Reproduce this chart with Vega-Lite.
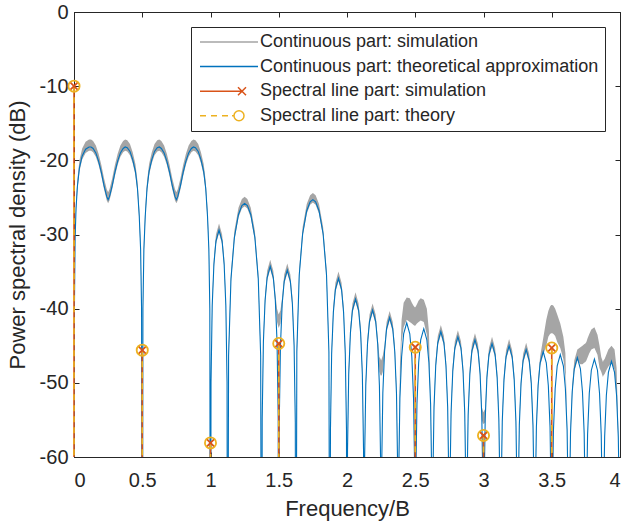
{
  "$schema": "https://vega.github.io/schema/vega-lite/v6.json",
  "width": 546,
  "height": 445,
  "autosize": "none",
  "padding": {"left": 74, "top": 12, "right": 6, "bottom": 66},
  "background": "white",
  "config": {
    "font": "Liberation Sans",
    "view": {"stroke": "#262626", "strokeWidth": 1},
    "axis": {"grid": false, "domainColor": "#262626", "tickColor": "#262626", "labelColor": "#262626", "titleColor": "#262626", "labelFont": "Liberation Sans", "titleFont": "Liberation Sans", "titleFontWeight": "normal", "labelFontSize": 20, "titleFontSize": 22}
  },
  "datasets": {
    "th": [
      {"x":0,"t":-100,"h":-100,"l":-100},
      {"x":0.003,"t":-40,"h":-39,"l":-40.5},
      {"x":0.008,"t":-30.5,"h":-29.5,"l":-31},
      {"x":0.015,"t":-26.5,"h":-25.5,"l":-27},
      {"x":0.025,"t":-23.5,"h":-22.5,"l":-24},
      {"x":0.04,"t":-21,"h":-20,"l":-21.5},
      {"x":0.06,"t":-19.4,"h":-18.4,"l":-19.9},
      {"x":0.085,"t":-18.5,"h":-17.5,"l":-19},
      {"x":0.11,"t":-18.2,"h":-17.2,"l":-18.7},
      {"x":0.125,"t":-18.2,"h":-17.2,"l":-18.7},
      {"x":0.14,"t":-18.4,"h":-17.4,"l":-18.9},
      {"x":0.16,"t":-19,"h":-18,"l":-19.5},
      {"x":0.18,"t":-20.1,"h":-19.1,"l":-20.6},
      {"x":0.2,"t":-21.6,"h":-20.6,"l":-22.1},
      {"x":0.22,"t":-23.4,"h":-22.4,"l":-23.9},
      {"x":0.24,"t":-24.9,"h":-23.9,"l":-25.4},
      {"x":0.25,"t":-25.3,"h":-24.3,"l":-25.8},
      {"x":0.26,"t":-24.9,"h":-23.9,"l":-25.4},
      {"x":0.28,"t":-23.4,"h":-22.4,"l":-23.9},
      {"x":0.3,"t":-21.6,"h":-20.6,"l":-22.1},
      {"x":0.32,"t":-20.1,"h":-19.1,"l":-20.6},
      {"x":0.34,"t":-19,"h":-18,"l":-19.5},
      {"x":0.36,"t":-18.4,"h":-17.4,"l":-18.9},
      {"x":0.375,"t":-18.2,"h":-17.2,"l":-18.7},
      {"x":0.39,"t":-18.3,"h":-17.3,"l":-18.8},
      {"x":0.41,"t":-18.8,"h":-17.8,"l":-19.3},
      {"x":0.43,"t":-19.9,"h":-18.9,"l":-20.4},
      {"x":0.45,"t":-21.5,"h":-20.5,"l":-22},
      {"x":0.465,"t":-23.8,"h":-22.8,"l":-24.3},
      {"x":0.478,"t":-27.5,"h":-26.5,"l":-28},
      {"x":0.488,"t":-32,"h":-31,"l":-32.5},
      {"x":0.495,"t":-40,"h":-39,"l":-40.5},
      {"x":0.5,"t":-100,"h":-100,"l":-100},
      {"x":0.505,"t":-40,"h":-39,"l":-40.5},
      {"x":0.512,"t":-32,"h":-31,"l":-32.5},
      {"x":0.522,"t":-27.5,"h":-26.5,"l":-28},
      {"x":0.535,"t":-23.8,"h":-22.8,"l":-24.3},
      {"x":0.55,"t":-21.5,"h":-20.5,"l":-22},
      {"x":0.57,"t":-19.9,"h":-18.9,"l":-20.4},
      {"x":0.59,"t":-18.8,"h":-17.8,"l":-19.3},
      {"x":0.61,"t":-18.3,"h":-17.3,"l":-18.8},
      {"x":0.625,"t":-18.2,"h":-17.2,"l":-18.7},
      {"x":0.64,"t":-18.4,"h":-17.4,"l":-18.9},
      {"x":0.66,"t":-19,"h":-18,"l":-19.5},
      {"x":0.68,"t":-20.1,"h":-19.1,"l":-20.6},
      {"x":0.7,"t":-21.6,"h":-20.6,"l":-22.1},
      {"x":0.72,"t":-23.4,"h":-22.4,"l":-23.9},
      {"x":0.74,"t":-24.9,"h":-23.9,"l":-25.4},
      {"x":0.75,"t":-25.3,"h":-24.3,"l":-25.8},
      {"x":0.76,"t":-24.9,"h":-23.9,"l":-25.4},
      {"x":0.78,"t":-23.4,"h":-22.4,"l":-23.9},
      {"x":0.8,"t":-21.6,"h":-20.6,"l":-22.1},
      {"x":0.82,"t":-20.1,"h":-19.1,"l":-20.6},
      {"x":0.84,"t":-19,"h":-18,"l":-19.5},
      {"x":0.86,"t":-18.4,"h":-17.4,"l":-18.9},
      {"x":0.875,"t":-18.2,"h":-17.2,"l":-18.7},
      {"x":0.89,"t":-18.3,"h":-17.3,"l":-18.8},
      {"x":0.91,"t":-18.8,"h":-17.8,"l":-19.3},
      {"x":0.93,"t":-19.9,"h":-18.9,"l":-20.4},
      {"x":0.95,"t":-21.5,"h":-20.5,"l":-22},
      {"x":0.965,"t":-23.8,"h":-22.8,"l":-24.3},
      {"x":0.978,"t":-27.5,"h":-26.5,"l":-28},
      {"x":0.988,"t":-32,"h":-31,"l":-32.5},
      {"x":0.995,"t":-40,"h":-39,"l":-40.5},
      {"x":1.0,"t":-100,"h":-100,"l":-100},
      {"x":1.00375,"t":-49.9,"h":-49,"l":-50.3},
      {"x":1.0125,"t":-39.6,"h":-38.7,"l":-40},
      {"x":1.025,"t":-34,"h":-33.1,"l":-34.4},
      {"x":1.04,"t":-30.9,"h":-30,"l":-31.3},
      {"x":1.0625,"t":-29.4,"h":-28.5,"l":-29.8},
      {"x":1.085,"t":-30.9,"h":-30,"l":-31.3},
      {"x":1.1,"t":-34,"h":-33.1,"l":-34.4},
      {"x":1.1125,"t":-39.6,"h":-38.7,"l":-40},
      {"x":1.12125,"t":-49.9,"h":-49,"l":-50.3},
      {"x":1.125,"t":-100,"h":-100,"l":-100},
      {"x":1.1325,"t":-46.3,"h":-45.4,"l":-46.7},
      {"x":1.15,"t":-36,"h":-35.1,"l":-36.4},
      {"x":1.175,"t":-30.4,"h":-29.5,"l":-30.8},
      {"x":1.205,"t":-27.3,"h":-26.4,"l":-27.7},
      {"x":1.23,"t":-26.1,"h":-25.2,"l":-26.5},
      {"x":1.25,"t":-25.8,"h":-24.9,"l":-26.2},
      {"x":1.27,"t":-26.1,"h":-25.2,"l":-26.5},
      {"x":1.295,"t":-27.3,"h":-26.4,"l":-27.7},
      {"x":1.325,"t":-30.4,"h":-29.5,"l":-30.8},
      {"x":1.35,"t":-36,"h":-35.1,"l":-36.4},
      {"x":1.3675,"t":-46.3,"h":-45.4,"l":-46.7},
      {"x":1.375,"t":-100,"h":-100,"l":-100},
      {"x":1.37875,"t":-54.8,"h":-53.9,"l":-55.2},
      {"x":1.3875,"t":-44.5,"h":-43.6,"l":-44.9},
      {"x":1.4,"t":-38.9,"h":-38,"l":-39.3},
      {"x":1.415,"t":-35.8,"h":-34.9,"l":-36.2},
      {"x":1.4375,"t":-34.3,"h":-33.4,"l":-34.7},
      {"x":1.46,"t":-35.8,"h":-34.9,"l":-36.2},
      {"x":1.475,"t":-38.9,"h":-38,"l":-39.3},
      {"x":1.4875,"t":-44.5,"h":-40,"l":-41.8},
      {"x":1.49625,"t":-54.8,"h":-40.6,"l":-42.4},
      {"x":1.5,"t":-100,"h":-40.8,"l":-42.6},
      {"x":1.50375,"t":-55.3,"h":-40.6,"l":-42.4},
      {"x":1.5125,"t":-45,"h":-40.2,"l":-42},
      {"x":1.525,"t":-39.4,"h":-38.5,"l":-39.8},
      {"x":1.54,"t":-36.3,"h":-35.4,"l":-36.7},
      {"x":1.5625,"t":-34.8,"h":-33.9,"l":-35.2},
      {"x":1.585,"t":-36.3,"h":-35.4,"l":-36.7},
      {"x":1.6,"t":-39.4,"h":-38.5,"l":-39.8},
      {"x":1.6125,"t":-45,"h":-44.1,"l":-45.4},
      {"x":1.62125,"t":-55.3,"h":-54.4,"l":-55.7},
      {"x":1.625,"t":-100,"h":-100,"l":-100},
      {"x":1.6325,"t":-45.8,"h":-44.9,"l":-46.2},
      {"x":1.65,"t":-35.5,"h":-34.6,"l":-35.9},
      {"x":1.675,"t":-29.9,"h":-29,"l":-30.3},
      {"x":1.705,"t":-26.8,"h":-25.9,"l":-27.2},
      {"x":1.73,"t":-25.6,"h":-24.7,"l":-26},
      {"x":1.75,"t":-25.3,"h":-24.4,"l":-25.7},
      {"x":1.77,"t":-25.6,"h":-24.7,"l":-26},
      {"x":1.795,"t":-26.8,"h":-25.9,"l":-27.2},
      {"x":1.825,"t":-29.9,"h":-29,"l":-30.3},
      {"x":1.85,"t":-35.5,"h":-34.6,"l":-35.9},
      {"x":1.8675,"t":-45.8,"h":-44.9,"l":-46.2},
      {"x":1.875,"t":-100,"h":-100,"l":-100},
      {"x":1.87875,"t":-56.4,"h":-55.5,"l":-56.8},
      {"x":1.8875,"t":-46.1,"h":-45.2,"l":-46.5},
      {"x":1.9,"t":-40.5,"h":-39.6,"l":-40.9},
      {"x":1.915,"t":-37.4,"h":-36.5,"l":-37.8},
      {"x":1.9375,"t":-35.9,"h":-35,"l":-36.3},
      {"x":1.96,"t":-37.4,"h":-36.5,"l":-37.8},
      {"x":1.975,"t":-40.5,"h":-39.6,"l":-40.9},
      {"x":1.9875,"t":-46.1,"h":-45.2,"l":-46.5},
      {"x":1.99625,"t":-56.4,"h":-55.5,"l":-56.8},
      {"x":2.0,"t":-100,"h":-100,"l":-100},
      {"x":2.00375,"t":-59.2,"h":-58.3,"l":-59.6},
      {"x":2.0125,"t":-48.9,"h":-48,"l":-49.3},
      {"x":2.025,"t":-43.3,"h":-42.4,"l":-43.7},
      {"x":2.04,"t":-40.2,"h":-39.3,"l":-40.6},
      {"x":2.0625,"t":-38.7,"h":-37.8,"l":-39.1},
      {"x":2.085,"t":-40.2,"h":-39.3,"l":-40.6},
      {"x":2.1,"t":-43.3,"h":-42.4,"l":-43.7},
      {"x":2.1125,"t":-48.9,"h":-48,"l":-49.3},
      {"x":2.12125,"t":-59.2,"h":-58.3,"l":-59.6},
      {"x":2.125,"t":-100,"h":-100,"l":-100},
      {"x":2.12875,"t":-60.7,"h":-59.8,"l":-61.1},
      {"x":2.1375,"t":-50.4,"h":-49.5,"l":-50.8},
      {"x":2.15,"t":-44.8,"h":-43.9,"l":-45.2},
      {"x":2.165,"t":-41.7,"h":-40.8,"l":-42.1},
      {"x":2.1875,"t":-40.2,"h":-39.3,"l":-40.6},
      {"x":2.21,"t":-41.7,"h":-40.8,"l":-42.1},
      {"x":2.225,"t":-44.8,"h":-43.9,"l":-45.2},
      {"x":2.2375,"t":-50.4,"h":-46.5,"l":-48.5},
      {"x":2.24625,"t":-60.7,"h":-46.8,"l":-49},
      {"x":2.25,"t":-100,"h":-47,"l":-49},
      {"x":2.25375,"t":-61.7,"h":-46.8,"l":-49},
      {"x":2.2625,"t":-51.4,"h":-46.3,"l":-48.5},
      {"x":2.275,"t":-45.8,"h":-44.9,"l":-46.2},
      {"x":2.29,"t":-42.7,"h":-41.8,"l":-43.1},
      {"x":2.3125,"t":-41.2,"h":-40.3,"l":-41.6},
      {"x":2.335,"t":-42.7,"h":-41.8,"l":-43.1},
      {"x":2.35,"t":-45.8,"h":-44.9,"l":-46.2},
      {"x":2.3625,"t":-51.4,"h":-50.5,"l":-51.8},
      {"x":2.37125,"t":-61.7,"h":-60.8,"l":-62.1},
      {"x":2.375,"t":-100,"h":-100,"l":-100},
      {"x":2.37875,"t":-62.4,"h":-61.5,"l":-62.8},
      {"x":2.3875,"t":-52.1,"h":-48,"l":-52.5},
      {"x":2.4,"t":-46.5,"h":-41.5,"l":-44.5},
      {"x":2.415,"t":-43.4,"h":-39.2,"l":-42.5},
      {"x":2.4375,"t":-41.9,"h":-38.5,"l":-41.5},
      {"x":2.46,"t":-43.4,"h":-38.6,"l":-41.8},
      {"x":2.475,"t":-46.5,"h":-39.2,"l":-42},
      {"x":2.4875,"t":-52.1,"h":-39.6,"l":-42.2},
      {"x":2.49625,"t":-62.4,"h":-39.8,"l":-42.3},
      {"x":2.5,"t":-100,"h":-39.8,"l":-42.3},
      {"x":2.50375,"t":-63.2,"h":-39.7,"l":-42.2},
      {"x":2.5125,"t":-52.9,"h":-39.4,"l":-42},
      {"x":2.525,"t":-47.3,"h":-38.9,"l":-41.8},
      {"x":2.54,"t":-44.2,"h":-38.6,"l":-41.6},
      {"x":2.5625,"t":-42.7,"h":-38.8,"l":-41.8},
      {"x":2.585,"t":-44.2,"h":-40,"l":-43.5},
      {"x":2.6,"t":-47.3,"h":-43,"l":-47},
      {"x":2.6125,"t":-52.9,"h":-52,"l":-53.3},
      {"x":2.62125,"t":-63.2,"h":-62.3,"l":-63.6},
      {"x":2.625,"t":-100,"h":-100,"l":-100},
      {"x":2.62875,"t":-63.6,"h":-62.7,"l":-64},
      {"x":2.6375,"t":-53.3,"h":-52.4,"l":-53.7},
      {"x":2.65,"t":-47.7,"h":-46.8,"l":-48.1},
      {"x":2.665,"t":-44.6,"h":-43.7,"l":-45},
      {"x":2.6875,"t":-43.1,"h":-42.2,"l":-43.5},
      {"x":2.71,"t":-44.6,"h":-43.7,"l":-45},
      {"x":2.725,"t":-47.7,"h":-46.8,"l":-48.1},
      {"x":2.7375,"t":-53.3,"h":-52.4,"l":-53.7},
      {"x":2.74625,"t":-63.6,"h":-62.7,"l":-64},
      {"x":2.75,"t":-100,"h":-100,"l":-100},
      {"x":2.75375,"t":-64.3,"h":-63.4,"l":-64.7},
      {"x":2.7625,"t":-54,"h":-53.1,"l":-54.4},
      {"x":2.775,"t":-48.4,"h":-47.5,"l":-48.8},
      {"x":2.79,"t":-45.3,"h":-44.4,"l":-45.7},
      {"x":2.8125,"t":-43.8,"h":-42.9,"l":-44.2},
      {"x":2.835,"t":-45.3,"h":-44.4,"l":-45.7},
      {"x":2.85,"t":-48.4,"h":-47.5,"l":-48.8},
      {"x":2.8625,"t":-54,"h":-53.1,"l":-54.4},
      {"x":2.87125,"t":-64.3,"h":-63.4,"l":-64.7},
      {"x":2.875,"t":-100,"h":-100,"l":-100},
      {"x":2.87875,"t":-64.7,"h":-63.8,"l":-65.1},
      {"x":2.8875,"t":-54.4,"h":-53.5,"l":-54.8},
      {"x":2.9,"t":-48.8,"h":-47.9,"l":-49.2},
      {"x":2.915,"t":-45.7,"h":-44.8,"l":-46.1},
      {"x":2.9375,"t":-44.2,"h":-43.3,"l":-44.6},
      {"x":2.96,"t":-45.7,"h":-44.8,"l":-46.1},
      {"x":2.975,"t":-48.8,"h":-47.9,"l":-49.2},
      {"x":2.9875,"t":-54.4,"h":-53.3,"l":-55},
      {"x":2.99625,"t":-64.7,"h":-53.8,"l":-55.5},
      {"x":3.0,"t":-100,"h":-54,"l":-55.5},
      {"x":3.00375,"t":-65.2,"h":-53.8,"l":-55.5},
      {"x":3.0125,"t":-54.9,"h":-53.5,"l":-55.3},
      {"x":3.025,"t":-49.3,"h":-48.4,"l":-49.7},
      {"x":3.04,"t":-46.2,"h":-45.3,"l":-46.6},
      {"x":3.0625,"t":-44.7,"h":-43.8,"l":-45.1},
      {"x":3.085,"t":-46.2,"h":-45.3,"l":-46.6},
      {"x":3.1,"t":-49.3,"h":-48.4,"l":-49.7},
      {"x":3.1125,"t":-54.9,"h":-54,"l":-55.3},
      {"x":3.12125,"t":-65.2,"h":-64.3,"l":-65.6},
      {"x":3.125,"t":-100,"h":-100,"l":-100},
      {"x":3.12875,"t":-65.5,"h":-64.6,"l":-65.9},
      {"x":3.1375,"t":-55.2,"h":-54.3,"l":-55.6},
      {"x":3.15,"t":-49.6,"h":-48.7,"l":-50},
      {"x":3.165,"t":-46.5,"h":-45.6,"l":-46.9},
      {"x":3.1875,"t":-45,"h":-44.1,"l":-45.4},
      {"x":3.21,"t":-46.5,"h":-45.6,"l":-46.9},
      {"x":3.225,"t":-49.6,"h":-48.7,"l":-50},
      {"x":3.2375,"t":-55.2,"h":-54.3,"l":-55.6},
      {"x":3.24625,"t":-65.5,"h":-64.6,"l":-65.9},
      {"x":3.25,"t":-100,"h":-100,"l":-100},
      {"x":3.25375,"t":-66,"h":-65.1,"l":-66.4},
      {"x":3.2625,"t":-55.7,"h":-54.8,"l":-56.1},
      {"x":3.275,"t":-50.1,"h":-49.2,"l":-50.5},
      {"x":3.29,"t":-47,"h":-46.1,"l":-47.4},
      {"x":3.3125,"t":-45.5,"h":-44.6,"l":-45.9},
      {"x":3.335,"t":-47,"h":-46.1,"l":-47.4},
      {"x":3.35,"t":-50.1,"h":-49.2,"l":-50.5},
      {"x":3.3625,"t":-55.7,"h":-54.8,"l":-56.1},
      {"x":3.37125,"t":-66,"h":-65.1,"l":-66.4},
      {"x":3.375,"t":-100,"h":-100,"l":-100},
      {"x":3.37875,"t":-66.3,"h":-65.4,"l":-66.7},
      {"x":3.3875,"t":-56,"h":-55.1,"l":-56.4},
      {"x":3.4,"t":-50.4,"h":-49.5,"l":-50.8},
      {"x":3.415,"t":-47.3,"h":-46.4,"l":-47.7},
      {"x":3.4375,"t":-45.8,"h":-44,"l":-46.2},
      {"x":3.46,"t":-47.3,"h":-41.5,"l":-45},
      {"x":3.475,"t":-50.4,"h":-40.3,"l":-43.8},
      {"x":3.4875,"t":-56,"h":-39.7,"l":-43.4},
      {"x":3.49625,"t":-66.3,"h":-39.5,"l":-43.3},
      {"x":3.5,"t":-100,"h":-39.5,"l":-43.3},
      {"x":3.50375,"t":-66.7,"h":-39.5,"l":-43.3},
      {"x":3.5125,"t":-56.4,"h":-39.6,"l":-43.4},
      {"x":3.525,"t":-50.8,"h":-40,"l":-43.7},
      {"x":3.54,"t":-47.7,"h":-40.8,"l":-44.5},
      {"x":3.5625,"t":-46.2,"h":-42,"l":-45.3},
      {"x":3.585,"t":-47.7,"h":-43.8,"l":-46.8},
      {"x":3.6,"t":-50.8,"h":-46,"l":-49},
      {"x":3.6125,"t":-56.4,"h":-55.5,"l":-56.8},
      {"x":3.62125,"t":-66.7,"h":-65.8,"l":-67.1},
      {"x":3.625,"t":-100,"h":-100,"l":-100},
      {"x":3.62875,"t":-67.1,"h":-66.2,"l":-67.5},
      {"x":3.6375,"t":-56.8,"h":-55.9,"l":-57.2},
      {"x":3.65,"t":-51.2,"h":-50.3,"l":-51.6},
      {"x":3.665,"t":-48.1,"h":-47,"l":-48.5},
      {"x":3.6875,"t":-46.6,"h":-45.5,"l":-47},
      {"x":3.71,"t":-48.1,"h":-45.2,"l":-47.5},
      {"x":3.725,"t":-51.2,"h":-45,"l":-47.5},
      {"x":3.7375,"t":-56.8,"h":-44.8,"l":-47.3},
      {"x":3.74625,"t":-67.1,"h":-44.7,"l":-47.2},
      {"x":3.75,"t":-100,"h":-44.6,"l":-47.1},
      {"x":3.75375,"t":-67.3,"h":-44.5,"l":-47},
      {"x":3.7625,"t":-57,"h":-44,"l":-46.6},
      {"x":3.775,"t":-51.4,"h":-43.4,"l":-46},
      {"x":3.79,"t":-48.3,"h":-42.8,"l":-45.5},
      {"x":3.8125,"t":-46.8,"h":-42.5,"l":-45.3},
      {"x":3.835,"t":-48.3,"h":-43.5,"l":-46.2},
      {"x":3.85,"t":-51.4,"h":-45,"l":-48},
      {"x":3.8625,"t":-57,"h":-46.5,"l":-48.5},
      {"x":3.87125,"t":-67.3,"h":-47,"l":-49},
      {"x":3.875,"t":-100,"h":-47.2,"l":-49.2},
      {"x":3.87875,"t":-67.6,"h":-47,"l":-49},
      {"x":3.8875,"t":-57.3,"h":-46.8,"l":-48.8},
      {"x":3.9,"t":-51.7,"h":-46.2,"l":-48.3},
      {"x":3.915,"t":-48.6,"h":-45.5,"l":-47.8},
      {"x":3.9375,"t":-47.1,"h":-45,"l":-47.3},
      {"x":3.96,"t":-48.6,"h":-45.5,"l":-48.2},
      {"x":3.975,"t":-51.7,"h":-48,"l":-52},
      {"x":3.9875,"t":-57.3,"h":-56.4,"l":-57.7},
      {"x":3.99625,"t":-67.6,"h":-66.7,"l":-68},
      {"x":4.0,"t":-100,"h":-100,"l":-100}
    ],
    "sp": [
      {"f":0,"v":-10},
      {"f":0.5,"v":-45.6},
      {"f":1,"v":-58.1},
      {"f":1.5,"v":-44.7},
      {"f":2.5,"v":-45.2},
      {"f":3,"v":-57.1},
      {"f":3.5,"v":-45.3}
    ],
    "lg": [
      {"s":"Continuous part: simulation"},
      {"s":"Continuous part: theoretical approximation"},
      {"s":"Spectral line part: simulation"},
      {"s":"Spectral line part: theory"}
    ]
  },
  "resolve": {"axis": {"x": "independent", "y": "independent"}},
  "layer": [
    {
      "data": {"name": "th"},
      "mark": {"type": "area", "color": "#A5A5A5", "clip": true, "opacity": 1},
      "encoding": {
        "x": {"field": "x", "type": "quantitative", "scale": {"domain": [0, 4], "nice": false, "zero": false},
              "axis": {"orient": "bottom", "values": [0,0.5,1,1.5,2,2.5,3,3.5,4], "format": "~g", "title": "Frequency/B", "tickSize": -5, "labelPadding": 18, "titlePadding": 8, "domain": true}},
        "y": {"field": "h", "type": "quantitative", "scale": {"domain": [-60, 0], "nice": false, "zero": false},
              "axis": {"orient": "left", "values": [-60,-50,-40,-30,-20,-10,0], "labelExpr": "'' + datum.value", "title": "Power spectral density (dB)", "tickSize": -5, "labelPadding": 11, "titlePadding": 10, "domain": true}},
        "y2": {"field": "l"}
      }
    },
    {
      "data": {"name": "th"},
      "mark": {"type": "line", "color": "#0072BD", "strokeWidth": 1.1, "clip": true},
      "encoding": {
        "x": {"field": "x", "type": "quantitative", "axis": null},
        "y": {"field": "t", "type": "quantitative", "axis": null}
      }
    },
    {
      "data": {"name": "sp"},
      "mark": {"type": "rule", "color": "#D95319", "strokeWidth": 1.6},
      "encoding": {
        "x": {"field": "f", "type": "quantitative", "axis": null},
        "y": {"field": "v", "type": "quantitative", "axis": null},
        "y2": {"datum": -60}
      }
    },
    {
      "data": {"name": "sp"},
      "mark": {"type": "rule", "color": "#EDB120", "strokeWidth": 1.6, "strokeDash": [6, 5]},
      "encoding": {
        "x": {"field": "f", "type": "quantitative", "axis": null},
        "y": {"field": "v", "type": "quantitative", "axis": null},
        "y2": {"datum": -60}
      }
    },
    {
      "data": {"name": "sp"},
      "mark": {"type": "point", "shape": "M-1,-1L1,1M-1,1L1,-1", "filled": false, "stroke": "#D95319", "strokeWidth": 1.8, "size": 56, "opacity": 1},
      "encoding": {
        "x": {"field": "f", "type": "quantitative", "axis": null},
        "y": {"field": "v", "type": "quantitative", "axis": null}
      }
    },
    {
      "data": {"name": "sp"},
      "mark": {"type": "point", "shape": "circle", "filled": false, "stroke": "#EDB120", "strokeWidth": 1.8, "size": 125, "opacity": 1},
      "encoding": {
        "x": {"field": "f", "type": "quantitative", "axis": null},
        "y": {"field": "v", "type": "quantitative", "axis": null}
      }
    },
    {
      "data": {"name": "sp"},
      "mark": {"type": "point", "opacity": 0},
      "encoding": {
        "x": {"field": "f", "type": "quantitative", "axis": {"orient": "top", "values": [0,0.5,1,1.5,2,2.5,3,3.5,4], "labels": false, "title": null, "tickSize": -5, "domain": true}},
        "y": {"field": "v", "type": "quantitative", "axis": {"orient": "right", "values": [-60,-50,-40,-30,-20,-10,0], "labels": false, "title": null, "tickSize": -5, "domain": true}}
      }
    },
    {
      "data": {"name": "lg"},
      "mark": {"type": "point", "filled": false, "opacity": 0, "size": 100, "strokeWidth": 1.5},
      "encoding": {
        "shape": {"field": "s", "type": "nominal",
          "scale": {"domain": ["Continuous part: simulation", "Continuous part: theoretical approximation", "Spectral line part: simulation", "Spectral line part: theory"],
                    "range": ["M-5.8,0L5.8,0", "M-5.8,0L5.8,0", "M-5.8,0L2.6,0M1.8,-0.8L3.4,0.8M1.8,0.8L3.4,-0.8", "M-5.8,0L-4.6,0M-3.6,0L-2.4,0M-1.4,0L-0.2,0M0.6,0L1,0M3,0C3,0.552 2.552,1 2,1C1.448,1 1,0.552 1,0C1,-0.552 1.448,-1 2,-1C2.552,-1 3,-0.552 3,0Z"]},
          "legend": {"title": null, "orient": "none", "legendX": 117, "legendY": 15, "strokeColor": "#262626", "fillColor": "white", "padding": 6, "labelFontSize": 18, "labelFont": "Liberation Sans", "labelColor": "#262626", "symbolSize": 100, "symbolStrokeWidth": 1.5, "symbolOpacity": 1, "symbolFillColor": "transparent", "symbolOffset": 23, "labelOffset": 22, "rowPadding": 6.6, "labelLimit": 500}},
        "stroke": {"field": "s", "type": "nominal",
          "scale": {"domain": ["Continuous part: simulation", "Continuous part: theoretical approximation", "Spectral line part: simulation", "Spectral line part: theory"],
                    "range": ["#A5A5A5", "#0072BD", "#D95319", "#EDB120"]},
          "legend": {"title": null, "orient": "none", "legendX": 117, "legendY": 15, "strokeColor": "#262626", "fillColor": "white", "padding": 6, "labelFontSize": 18, "labelFont": "Liberation Sans", "labelColor": "#262626", "symbolSize": 100, "symbolStrokeWidth": 1.5, "symbolOpacity": 1, "symbolFillColor": "transparent", "symbolOffset": 23, "labelOffset": 22, "rowPadding": 6.6, "labelLimit": 500}}
      }
    }
  ]
}
